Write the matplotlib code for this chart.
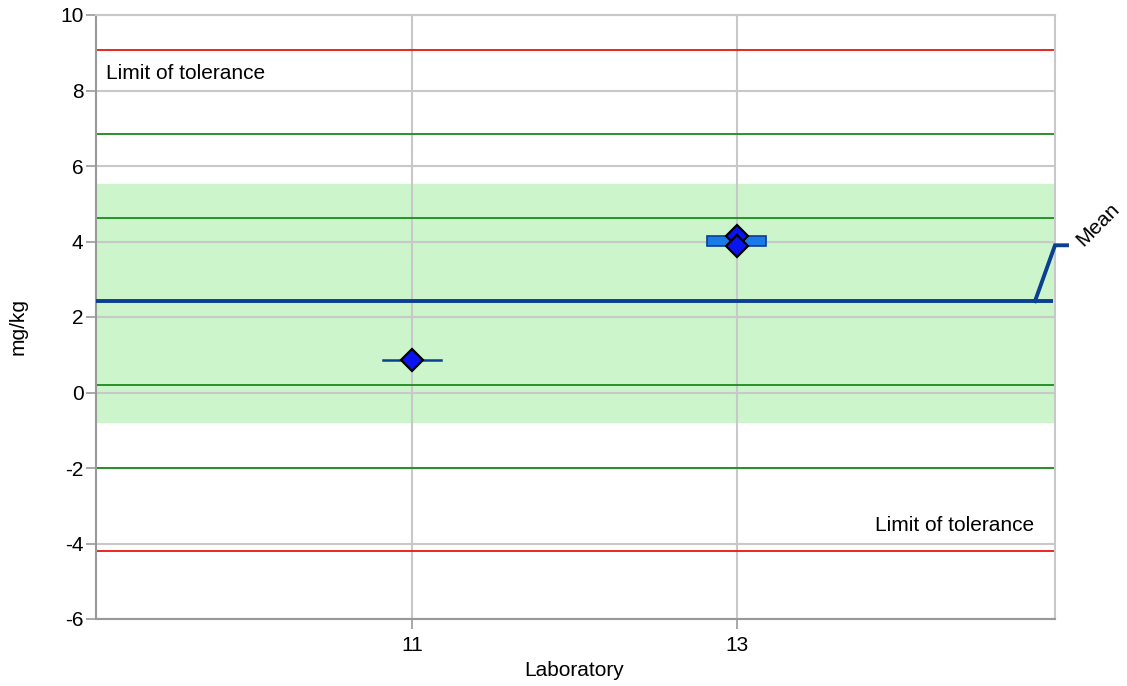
import matplotlib
matplotlib.use("Agg")
import matplotlib.pyplot as plt
from matplotlib.patches import Rectangle

plt.rcParams['font.family'] = ['Liberation Sans', 'DejaVu Sans']
plt.rcParams['axes.unicode_minus'] = False

# Data
labs = [11, 13]
lab_values = [[0.87], [4.14, 3.87]]
mean_value = 2.42
tolerance_limits = [9.07, -4.20]
green_lines = [6.84, 4.61, 0.21, -1.99]
band = [-0.77, 5.52]
yticks = [-6, -4, -2, 0, 2, 4, 6, 8, 10]
xticks = [11, 13]

FS = 15

fig = plt.figure(figsize=(11.27, 6.86), dpi=100)
ax = fig.add_axes([96/1127, 1 - 619/686, (1055-96)/1127, (619-15)/686])
ax.set_xlim(9.055, 14.96)
ax.set_ylim(-6, 10)

ax.axhspan(band[0], band[1], color='#ccf5cc', zorder=0)
for y in yticks:
    ax.axhline(y, color='#c8c8c8', lw=1.5, zorder=1)
for x in xticks:
    ax.axvline(x, color='#c8c8c8', lw=1.5, zorder=1)
for y in green_lines:
    ax.axhline(y, color='#1a8a1a', lw=1.3, zorder=2)
for y in tolerance_limits:
    ax.axhline(y, color='#e8160c', lw=1.3, zorder=2)

# mean line
ax.plot([9.055, 14.95], [mean_value, mean_value], color='#0a3f91', lw=2.8, zorder=4,
        solid_capstyle='butt')

# Mean label connector in axes-fraction coords
trans = ax.get_yaxis_transform()
x0 = (1035 - 96) / (1055 - 96)
x1 = (1055 - 96) / (1055 - 96)
x2 = (1067 - 96) / (1055 - 96)
y_top = 3.9
ax.plot([x0, x1, x2], [mean_value, y_top, y_top], color='#0a3f91', lw=2.8,
        transform=trans, clip_on=False, zorder=4, solid_joinstyle='miter')
ax.annotate('Mean', xy=(x2, y_top), xycoords=trans, xytext=(19, -5),
            textcoords='offset pixels', rotation=45, ha='left', va='bottom',
            fontsize=FS, rotation_mode='anchor', annotation_clip=False)

for lab, vals in zip(labs, lab_values):
    lo, hi = min(vals), max(vals)
    if len(vals) == 1:
        ax.plot([lab - 0.18, lab + 0.18], [lo, lo], color='#0a3f91', lw=1.8, zorder=5)
    else:
        ax.add_patch(Rectangle((lab - 0.18, lo), 0.36, hi - lo, facecolor='#1a7ae8',
                               edgecolor='#0a3f91', lw=1.2, zorder=5))
    ax.plot([lab] * len(vals), vals, linestyle='none', marker='D', markersize=11.5,
            markerfacecolor='#0a14f0', markeredgecolor='black', markeredgewidth=1.6, zorder=6)

ax.text(9.055 + 0.062, 8.45, 'Limit of tolerance', ha='left', va='center', fontsize=FS)
ax.text(14.83, -3.53, 'Limit of tolerance', ha='right', va='center', fontsize=FS)

ax.set_xticks(xticks)
ax.set_xticklabels([str(x) for x in xticks])
ax.set_yticks(yticks)
ax.tick_params(axis='y', length=7, color='#999999', labelsize=FS, width=1.2, pad=2)
ax.tick_params(axis='x', length=7, color='#999999', labelsize=FS, width=1.2, pad=5)
for side in ['left', 'bottom']:
    ax.spines[side].set_color('#999999')
    ax.spines[side].set_linewidth(1.5)
for side in ['right', 'top']:
    ax.spines[side].set_color('#c8c8c8')
    ax.spines[side].set_linewidth(1.5)

fig.text(574/1127, 1 - 670/686, 'Laboratory', ha='center', va='center', fontsize=FS)
fig.text(18/1127, 1 - 326/686, 'mg/kg', ha='center', va='center', rotation=90, fontsize=FS)

fig.savefig('out.png', dpi=100)
